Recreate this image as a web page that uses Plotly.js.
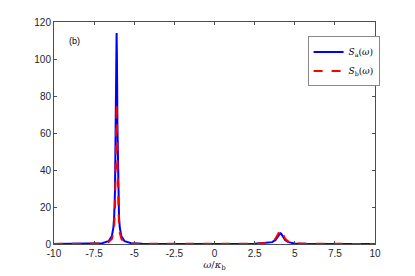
<!DOCTYPE html>
<html>
<head>
<meta charset="utf-8">
<script src="https://cdn.plot.ly/plotly-3.0.1.min.js"></script>
<style>html,body{margin:0;padding:0;background:#fff;}#plot{width:415px;height:276px;}</style>
</head>
<body>
<div id="plot"></div>
<script>
// frequency samples (omega / kappa_b)
const omega = [-10, -8, -7, -6.6, -6.4, -6.3, -6.25, -6.2, -6.15, -6.12, -6.1, -6.08, -6.05, -6.0, -5.95, -5.9, -5.8, -5.6, -5.2, -4.5, -3, -1, 1, 2.5, 3.2, 3.6, 3.8, 3.9, 4.0, 4.05, 4.1, 4.15, 4.2, 4.3, 4.4, 4.6, 5, 5.7, 7, 8.5, 10];
// S_a(omega) values
const Sa = [0.03, 0.11, 0.47, 1.5, 4.1, 8.8, 14.8, 28.7, 65.4, 101.9, 114, 101.9, 65.4, 28.7, 14.8, 8.8, 4.1, 1.5, 0.47, 0.15, 0.05, 0.03, 0.05, 0.15, 0.45, 1.0, 2.2, 3.6, 5.0, 5.6, 5.8, 5.6, 5.0, 3.6, 2.2, 1.0, 0.3, 0.1, 0.04, 0.02, 0.02];
// S_b(omega) values
const Sb = [0.02, 0.07, 0.31, 1.0, 2.7, 5.9, 9.9, 19.1, 43.6, 67.9, 76, 67.9, 43.6, 19.1, 9.9, 5.9, 2.7, 1.0, 0.31, 0.1, 0.04, 0.03, 0.06, 0.2, 0.6, 1.3, 2.9, 4.7, 6.5, 7.3, 7.6, 7.3, 6.5, 4.7, 2.9, 1.3, 0.4, 0.13, 0.05, 0.03, 0.02];
const xTicks = [-10, -7.5, -5, -2.5, 0, 2.5, 5, 7.5, 10];
const xTickText = ['-10', '-7.5', '-5', '-2.5', '0', '2.5', '5', '7.5', '10'];
const yTicks = [0, 20, 40, 60, 80, 100, 120];

const traces = [
  {x: omega, y: Sa, type: 'scatter', mode: 'lines', name: '<i>S</i><sub>a</sub>(<i>ω</i>)',
   line: {color: '#0000ff', width: 2}},
  {x: omega, y: Sb, type: 'scatter', mode: 'lines', name: '<i>S</i><sub>b</sub>(<i>ω</i>)',
   line: {color: '#ff0000', width: 2, dash: 'dash'}}
];
const axisCommon = {
  showgrid: false, zeroline: false, showline: true, mirror: 'ticks',
  linecolor: '#4d4d4d', linewidth: 1, ticks: 'inside', ticklen: 3, tickcolor: '#4d4d4d',
  tickfont: {family: 'Liberation Sans, Arial, sans-serif', size: 10, color: '#262626'}
};
const layout = {
  width: 415, height: 276,
  margin: {l: 54, r: 40, t: 22, b: 32, pad: 0},
  paper_bgcolor: '#fff', plot_bgcolor: '#fff',
  showlegend: true,
  legend: {x: 0.79, y: 0.935, xanchor: 'left', yanchor: 'top',
    bgcolor: '#fff', bordercolor: '#888', borderwidth: 1,
    font: {family: 'DejaVu Serif, Liberation Serif, serif', size: 9, color: '#000'},
    tracegroupgap: 0, itemwidth: 30},
  xaxis: Object.assign({}, axisCommon, {range: [-10, 10], tickvals: xTicks, ticktext: xTickText,
    title: {text: '<i>ω</i>/<i>κ</i><sub>b</sub>', standoff: 1,
      font: {family: 'DejaVu Serif, Liberation Serif, serif', size: 10, color: '#262626'}}}),
  yaxis: Object.assign({}, axisCommon, {range: [0, 120], tickvals: yTicks}),
  annotations: [{xref: 'paper', yref: 'paper', x: 0.04, y: 0.945, xanchor: 'left', yanchor: 'top',
    text: '(b)', showarrow: false,
    font: {family: 'Liberation Sans, Arial, sans-serif', size: 9, color: '#000'}}]
};
Plotly.newPlot('plot', traces, layout, {displayModeBar: false, staticPlot: true});
</script>
</body>
</html>
